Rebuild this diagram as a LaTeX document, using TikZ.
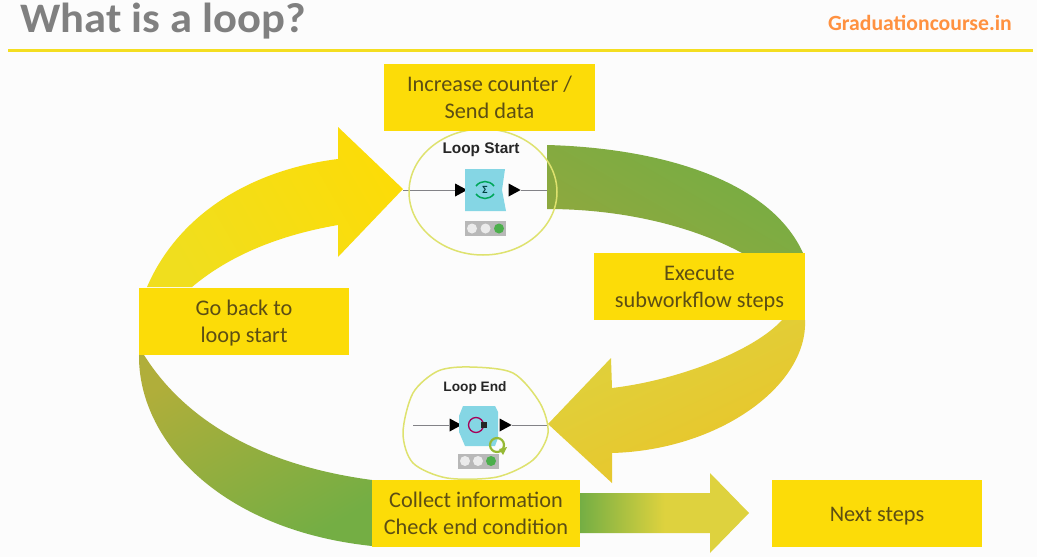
\documentclass[tikz,border=0pt]{standalone}
\usepackage{fontspec}
\setmainfont{Carlito}
\newfontfamily\labelfont{Liberation Sans}
\usetikzlibrary{positioning, calc, arrows.meta, shapes.geometric}
\definecolor{cY}{RGB}{252,220,8}
\definecolor{cT}{RGB}{92,78,20}
\definecolor{cG}{RGB}{116,174,68}
\definecolor{cO}{RGB}{143,168,62}
\definecolor{cK}{RGB}{176,174,58}
\definecolor{cA}{RGB}{222,210,62}
\definecolor{cB}{RGB}{234,196,40}
\definecolor{cC}{RGB}{240,222,30}
\definecolor{cL}{RGB}{222,226,110}
\definecolor{cN}{RGB}{133,214,228}
\definecolor{cW}{RGB}{130,130,135}
\newcommand{\stepstrut}{\rule[-3.7pt]{0pt}{23.2pt}}

\begin{document}
\begin{tikzpicture}[x=1pt, y=-1pt,
                    stepbox/.style={fill=cY, text=cT, minimum width=211pt, minimum height=67pt, inner sep=0pt, align=center, font=\fontsize{22.3}{27}\selectfont},
                    nodebody/.style={fill=cN},
                    wire/.style={draw=cW, line width=0.9pt},
                    port/.style={isosceles triangle, isosceles triangle stretches, fill=black, minimum width=13pt, minimum height=12pt, inner sep=0pt},
                    loopring/.style={draw=cL, line width=1.5pt},
                    lamps/.style={fill=black!28, minimum width=41pt, minimum height=15pt, inner sep=0pt},
                    lamp/.style={circle, minimum size=10pt, inner sep=0pt},
                    nodename/.style={text=black!85, inner sep=0pt}]

    \useasboundingbox (0,0) rectangle (1037,557);
    \fill[white!99!black] (0,0) rectangle (1037,557);

    % Header
    \node[anchor=base west, inner sep=0pt, xscale=1.06, text=black!50, font=\fontsize{42}{48}\selectfont\bfseries] (title) at (20,32) {What is a loop?};
    \node[anchor=east, inner sep=0pt, text=orange!85!red!75, font=\fontsize{21.7}{24}\selectfont\bfseries] (site) at (1012,23) {Graduationcourse.in};
    \coordinate (ruleL) at (8,50);
    \coordinate (ruleR) at (1033,50);
    \draw[draw=cY!75!cL, line width=3pt] (ruleL) -- (ruleR);

    % Wires
    \coordinate (startFree) at (403,190);
    \coordinate (startExit) at (548,190);
    \coordinate (endFree) at (413,425);
    \coordinate (endExit) at (548,425);
    \node[port] (startIn) at (459,190) {};
    \node[port] (startOut) at (512.5,190) {};
    \node[port] (endIn) at (453.5,425) {};
    \node[port] (endOut) at (503.5,425) {};
    \draw[wire] (startFree) -- (startIn);
    \draw[wire] (startOut) -- (startExit);
    \draw[wire] (endFree) -- (endIn);
    \draw[wire] (endOut) -- (endExit);

    % Arrows
    \shade[top color=cY, bottom color=cC, shading angle=-60]
        (147,287) .. controls (178,215) and (250,170) .. (338,159) -- (338,127) -- (403,189) -- (338,257) -- (338,225)
        .. controls (280,235) and (230,255) .. (192,287) -- cycle;
    \shade[top color=cG, bottom color=cO, shading angle=-30]
        (547,145) .. controls (660,148) and (770,180) .. (803,253) -- (742,253)
        .. controls (690,225) and (620,209) .. (547,209) -- cycle;
    \shade[top color=cA, bottom color=cB, shading angle=25]
        (805,320) .. controls (808,385) and (720,450) .. (612,453) -- (612,483) -- (548,424) -- (611,358) -- (612,388)
        .. controls (680,380) and (755,350) .. (782,320) -- cycle;
    \shade[top color=cK, bottom color=cG, shading angle=30]
        (139,355) .. controls (138,440) and (220,530) .. (372,546) -- (372,480)
        .. controls (260,465) and (185,420) .. (144,355) -- cycle;
    \shade[left color=cG, right color=cA, middle color=cA]
        (580,493) -- (710,493) -- (710,473) -- (749,513) -- (710,553) -- (710,533) -- (580,533) -- cycle;

    % Rings
    \draw[loopring] (483,192) ellipse [x radius=74, y radius=63];
    \draw[loopring] plot[smooth cycle] coordinates {(438,371) (470,367) (513,373) (540,403) (548,433) (533,460) (497,477) (447,478) (413,463) (403,433) (413,393)};

    % Loop Start
    \node[nodename, font=\labelfont\fontsize{15.4}{18}\selectfont\bfseries] (startName) at (481,150) {Loop Start};
    \fill[nodebody] (465,169) -- (505,169) -- (502,190) -- (506,211) -- (465,211) -- cycle;
    \draw[teal!70!green, line width=1.5pt] (476,186) .. controls (481,180) and (489,180) .. (494,186);
    \draw[teal!70!green, line width=1.5pt] (476,194) .. controls (481,200) and (489,200) .. (494,194);
    \node[inner sep=0pt, text=teal!50!black, font=\fontsize{11}{12}\selectfont\bfseries] (startSigma) at (485,190) {Σ};
    \node[lamps] (startLamps) at (485.5,228.5) {};
    \node[lamp, fill=white!92!black] (startLampA) at (472,228.5) {};
    \node[lamp, fill=white!92!black] (startLampB) at (485.5,228.5) {};
    \node[lamp, fill=green!55!black!70] (startLampC) at (499,228.5) {};

    % Loop End
    \node[nodename, font=\labelfont\fontsize{13.7}{18}\selectfont\bfseries] (endName) at (475,388) {Loop End};
    \fill[nodebody] (463,406) -- (495,406) -- (498,412) -- (498,438) -- (495,446) -- (465,446) -- (459,432) -- (459,416) -- cycle;
    \draw[draw=violet!70!red, line width=1.3pt] (476,425) circle [radius=7.5];
    \fill[black!85] (481,422) rectangle (487,428);
    \node[lamps] (endLamps) at (478,461) {};
    \node[lamp, fill=white!92!black] (endLampA) at (465,461) {};
    \node[lamp, fill=white!92!black] (endLampB) at (478,461) {};
    \node[lamp, fill=green!55!black!70] (endLampC) at (491,461) {};
    \draw[draw=cG!75!cY, line width=2.2pt] (497,445) circle [radius=7];
    \fill[cG!75!cY] (499,449) -- (507,447) -- (503,455) -- cycle;

    % Boxes
    \node[stepbox] (increase) at (489.5,97.5) {\stepstrut Increase counter /\\\stepstrut Send data};
    \node[stepbox, minimum width=210pt] (goback) at (244,321) {\stepstrut Go back to\\\stepstrut loop start};
    \node[stepbox] (execute) at (699.5,286) {\stepstrut Execute\\\stepstrut subworkflow steps};
    \node[stepbox, minimum width=208pt] (collect) at (476,513.5) {\stepstrut Collect information\\\stepstrut Check end condition};
    \node[stepbox, minimum width=210pt] (nextsteps) at (877,513.5) {\stepstrut Next steps};

\end{tikzpicture}
\end{document}
